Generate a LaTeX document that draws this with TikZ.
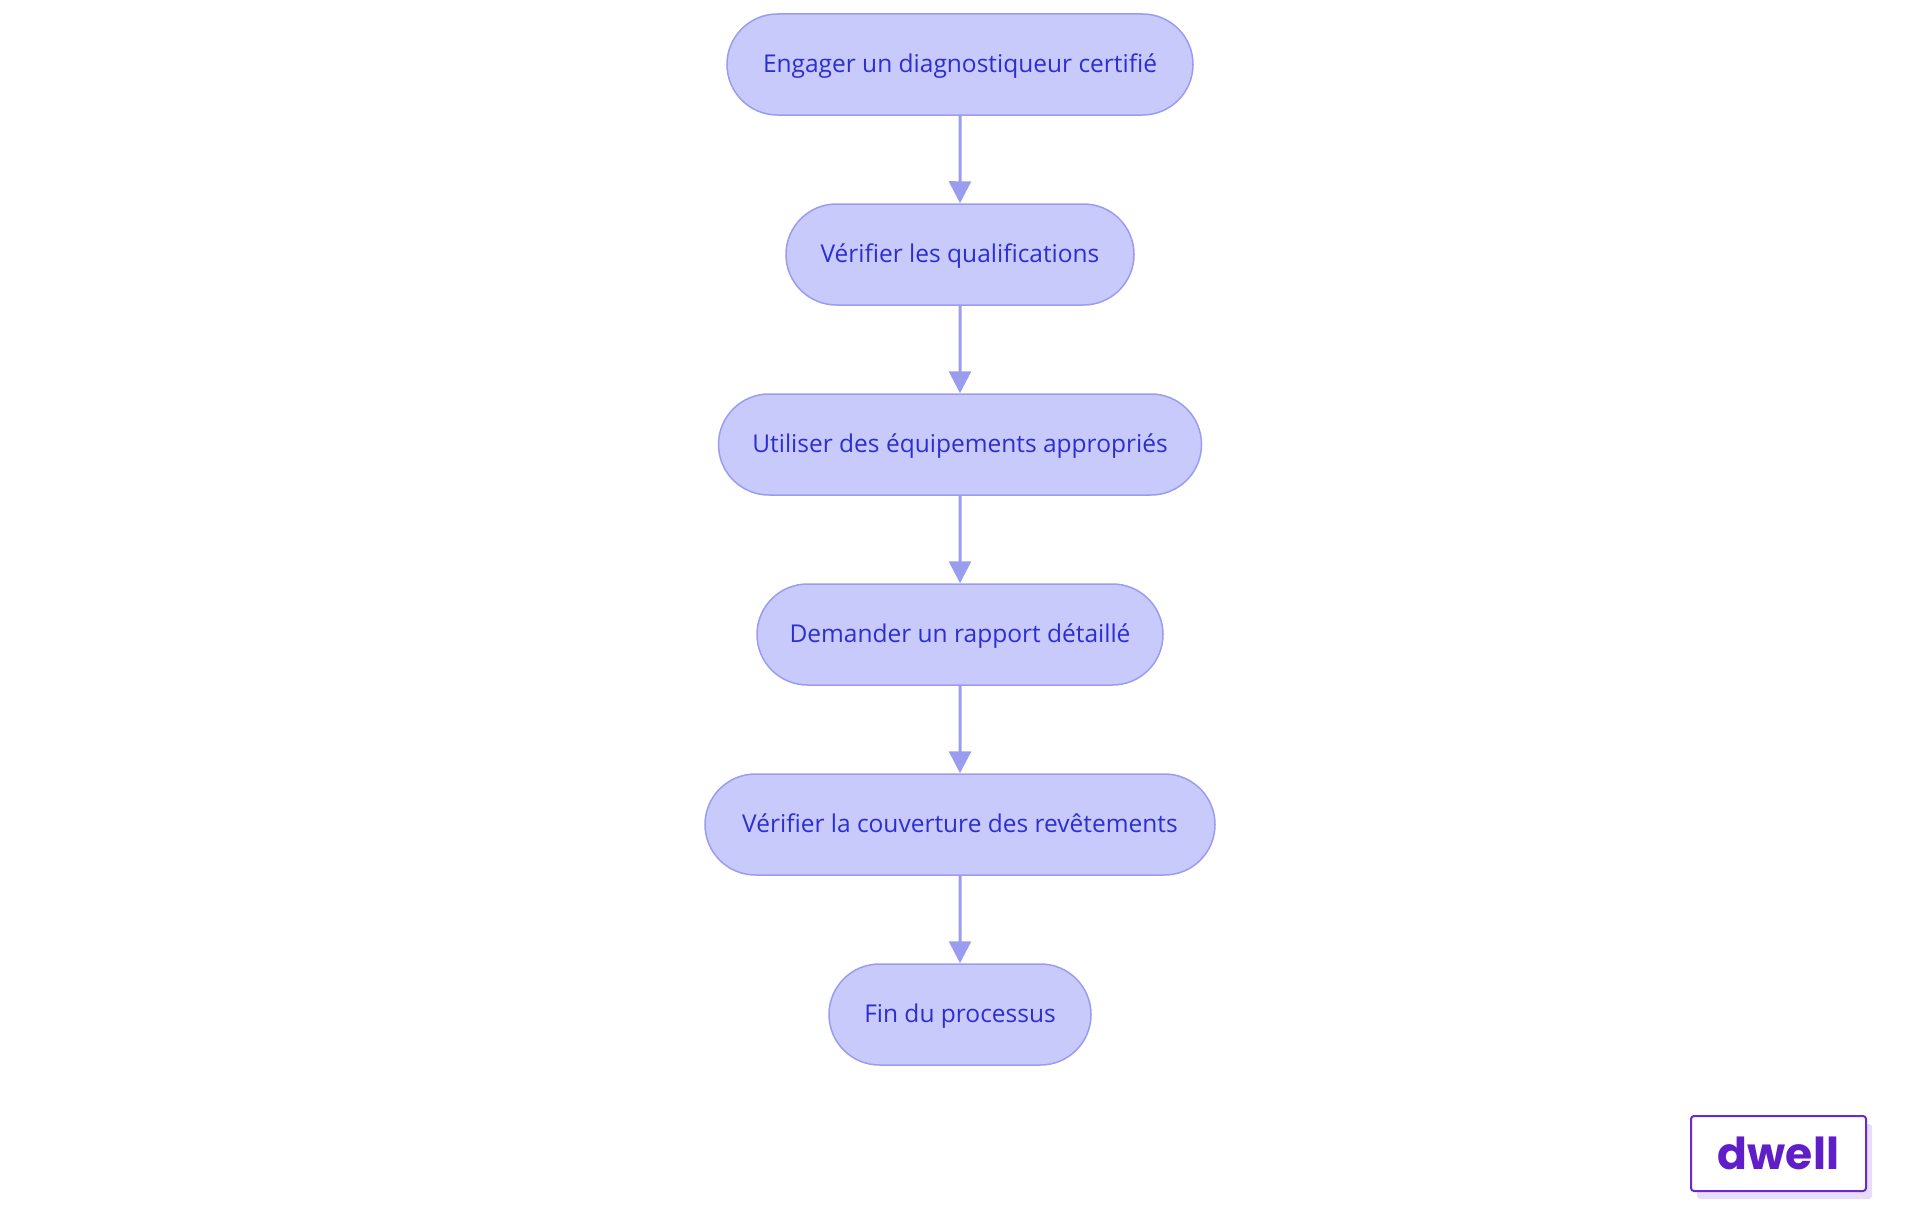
\documentclass[tikz,border=0pt]{standalone}
\usepackage{fontspec}
\setmainfont{Open Sans}
\newfontfamily\logofont{Poppins}
\usetikzlibrary{arrows.meta,shapes.misc}
\definecolor{nodefill}{HTML}{C8CAFC}
\definecolor{nodeline}{HTML}{9A9CF0}
\definecolor{nodetext}{HTML}{2E2ED0}
\definecolor{logoline}{HTML}{6A28D0}
\definecolor{logotext}{HTML}{5F1EC8}
\definecolor{logoshadow}{HTML}{E8DCF8}
\tikzset{
  flowbox/.style={rounded rectangle, draw=nodeline, fill=nodefill, line width=1.5pt,
    minimum height=101pt, text=nodetext, font=\fontsize{24.5}{28}\selectfont,
    inner xsep=0pt, text height=18pt, text depth=2pt},
  flowarrow/.style={draw=nodeline, line width=3pt,
    -{Triangle[width=22pt,length=22pt]}, shorten >=0pt}
}
\begin{document}
\begin{tikzpicture}[x=1pt,y=-1pt]
\useasboundingbox (0,0) rectangle (1920,1215);
\node[flowbox, minimum width=466pt] (n1) at (960,64.5) {Engager un diagnostiqueur certifié};
\node[flowbox, minimum width=348pt] (n2) at (960,254.5) {Vérifier les qualifications};
\node[flowbox, minimum width=483pt] (n3) at (960,444.5) {Utiliser des équipements appropriés};
\node[flowbox, minimum width=406pt] (n4) at (960,634.5) {Demander un rapport détaillé};
\node[flowbox, minimum width=510pt] (n5) at (960,824.5) {Vérifier la couverture des revêtements};
\node[flowbox, minimum width=262pt] (n6) at (960,1014.5) {Fin du processus};
\foreach \a/\b in {n1/n2,n2/n3,n3/n4,n4/n5,n5/n6}
  \draw[flowarrow] (\a) -- (\b);
\fill[logoshadow, rounded corners=3pt] (1697,1124) rectangle (1872,1199);
\node[draw=logoline, fill=white, line width=2pt, rounded corners=3pt,
  minimum width=175pt, minimum height=75pt, text=logotext,
  font=\logofont\bfseries\fontsize{44}{48}\selectfont] (logo) at (1778.5,1153.5) {dwell};
\end{tikzpicture}
\end{document}
